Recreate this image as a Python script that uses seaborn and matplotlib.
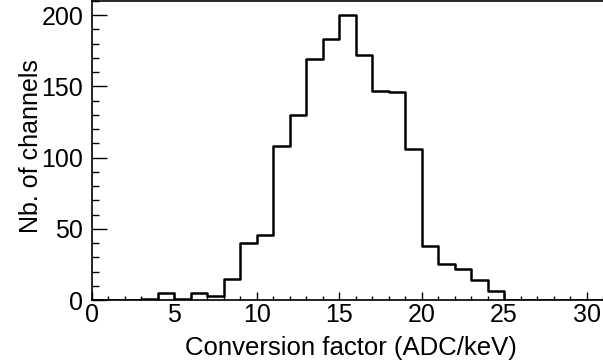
import numpy as np
import pandas as pd
import matplotlib
matplotlib.use("Agg")
import matplotlib.pyplot as plt
from matplotlib.ticker import MultipleLocator
import seaborn as sns

# Data: histogram of conversion factors, bins of width 1 from 0 to 31
bin_edges = list(range(0, 32))
counts = [0, 0, 0, 1, 5, 1, 5, 3, 15, 40, 46, 108, 130, 169, 183, 200,
          172, 147, 146, 106, 38, 25, 22, 14, 6, 0, 0, 0, 0, 0, 0]
x_label = "Conversion factor (ADC/keV)"
y_label = "Nb. of channels"

centers = [e + 0.5 for e in bin_edges[:-1]]
df = pd.DataFrame({"x": centers, "n": counts})

sns.set_style("ticks")
plt.rcParams["font.family"] = ["Liberation Sans", "DejaVu Sans"]
for k in ["text.color", "axes.labelcolor", "xtick.color", "ytick.color",
          "axes.edgecolor"]:
    plt.rcParams[k] = "black"

fig = plt.figure(figsize=(6.03, 3.64), dpi=100)
ax = fig.add_axes([91.7 / 603, 64 / 364, 1 - 91.7 / 603, 299 / 364])

sns.histplot(data=df, x="x", weights="n", bins=bin_edges, element="step",
             fill=False, color="black", linewidth=1.8, ax=ax)

ax.set_xlim(0, 31)
ax.set_ylim(0, 210)
ax.xaxis.set_major_locator(MultipleLocator(5))
ax.xaxis.set_minor_locator(MultipleLocator(1))
ax.yaxis.set_major_locator(MultipleLocator(50))
ax.yaxis.set_minor_locator(MultipleLocator(10))

ax.tick_params(axis="y", which="major", direction="in", length=11, width=1,
               labelsize=18, pad=6)
ax.tick_params(axis="y", which="minor", direction="in", length=5, width=1)
ax.tick_params(axis="x", which="major", direction="in", length=6, width=1,
               labelsize=18, pad=2)
ax.tick_params(axis="x", which="minor", direction="in", length=3, width=1)

for s in ax.spines.values():
    s.set_linewidth(1.2)
    s.set_color("black")
ax.spines["right"].set_visible(False)

ax.set_xlabel(x_label, fontsize=18.5, va="baseline")
ax.set_ylabel(y_label, fontsize=18)
ax.xaxis.set_label_coords(0.507, -0.184)
ax.yaxis.set_label_coords(-0.095, 0.515)

fig.savefig("out.png", dpi=100)
